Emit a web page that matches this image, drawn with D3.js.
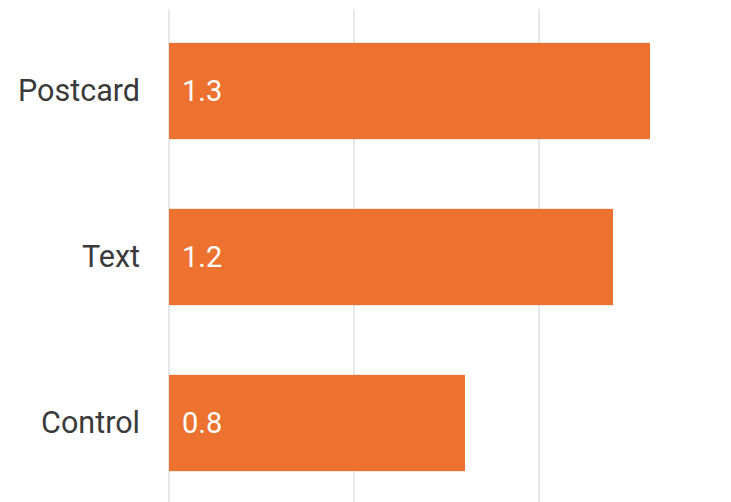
<!DOCTYPE html>
<html>
<head>
<meta charset="utf-8">
<script src="https://cdn.jsdelivr.net/npm/d3@7"></script>
<style>
  html, body { margin: 0; padding: 0; background: #fff; }
  svg { display: block; font-family: Roboto, "Noto Sans", sans-serif; }
</style>
</head>
<body>
<svg id="chart" width="731" height="502"></svg>
<script>
// Response rate by outreach method
const categories = ["Postcard", "Text", "Control"];
const values = [1.3, 1.2, 0.8];
const gridTicks = [0, 0.5, 1.0];

const svg = d3.select("#chart");
const left = 169;

const x = d3.scaleLinear().domain([0, 1.5]).range([left, left + 555]);
const y = d3.scaleBand()
  .domain(categories)
  .range([8, 506])
  .paddingInner(0.42)
  .paddingOuter(0.21);

// vertical gridlines
svg.append("g")
  .selectAll("line")
  .data(gridTicks)
  .join("line")
  .attr("x1", d => x(d)).attr("x2", d => x(d))
  .attr("y1", 9).attr("y2", 502)
  .attr("stroke", "#e0e0e0")
  .attr("stroke-width", 1.5);

// bars
svg.append("g")
  .selectAll("rect")
  .data(values)
  .join("rect")
  .attr("x", x(0))
  .attr("y", (d, i) => y(categories[i]))
  .attr("width", d => x(d) - x(0))
  .attr("height", y.bandwidth())
  .attr("fill", "#ED7230");

// value labels inside bars
svg.append("g")
  .selectAll("text")
  .data(values)
  .join("text")
  .attr("x", x(0) + 13)
  .attr("y", (d, i) => y(categories[i]) + y.bandwidth() / 2)
  .attr("dy", "0.34em")
  .attr("fill", "#fff")
  .attr("font-size", 29)
  .text(d => d3.format(".1f")(d));

// category labels
svg.append("g")
  .selectAll("text")
  .data(categories)
  .join("text")
  .attr("x", 140)
  .attr("y", d => y(d) + y.bandwidth() / 2)
  .attr("dy", "0.34em")
  .attr("text-anchor", "end")
  .attr("fill", "#3a3a3a")
  .attr("font-size", 30.5)
  .text(d => d);
</script>
</body>
</html>
